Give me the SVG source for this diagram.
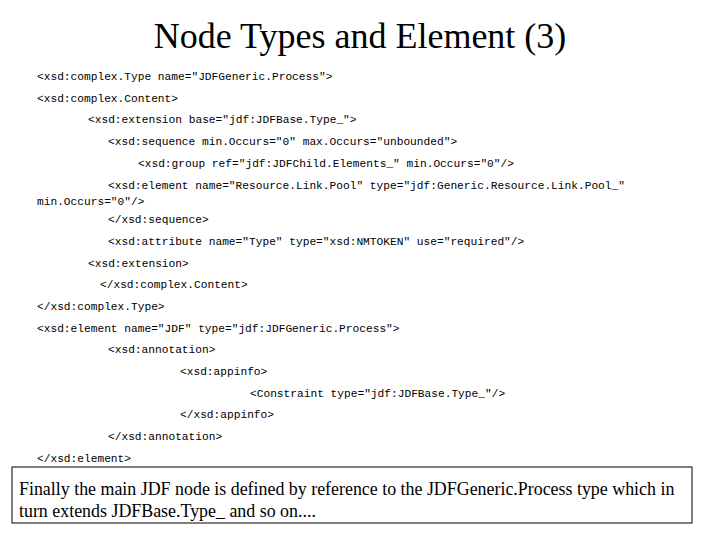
<svg xmlns="http://www.w3.org/2000/svg" width="720" height="540" viewBox="0 0 720 540">
<style>
.c{font-family:"Liberation Mono",monospace;font-size:11.2px;fill:#000}
.t{font-family:"Liberation Serif",serif;fill:#000}
</style>
<rect width="720" height="540" fill="#fff"/>
<text class="t" x="360" y="48" font-size="36" text-anchor="middle">Node Types and Element (3)</text>
<g id="code">
<text class="c" x="37" y="80">&lt;xsd:complex.Type name="JDFGeneric.Process"&gt;</text>
<text class="c" x="37" y="102">&lt;xsd:complex.Content&gt;</text>
<text class="c" x="88" y="123">&lt;xsd:extension base="jdf:JDFBase.Type_"&gt;</text>
<text class="c" x="108" y="145">&lt;xsd:sequence min.Occurs="0" max.Occurs="unbounded"&gt;</text>
<text class="c" x="138" y="167">&lt;xsd:group ref="jdf:JDFChild.Elements_" min.Occurs="0"/&gt;</text>
<text class="c" x="108" y="189">&lt;xsd:element name="Resource.Link.Pool" type="jdf:Generic.Resource.Link.Pool_"</text>
<text class="c" x="37" y="205">min.Occurs="0"/&gt;</text>
<text class="c" x="108" y="223">&lt;/xsd:sequence&gt;</text>
<text class="c" x="108" y="245">&lt;xsd:attribute name="Type" type="xsd:NMTOKEN" use="required"/&gt;</text>
<text class="c" x="88" y="267">&lt;xsd:extension&gt;</text>
<text class="c" x="100" y="288">&lt;/xsd:complex.Content&gt;</text>
<text class="c" x="37" y="310">&lt;/xsd:complex.Type&gt;</text>
<text class="c" x="37" y="332">&lt;xsd:element name="JDF" type="jdf:JDFGeneric.Process"&gt;</text>
<text class="c" x="108" y="353">&lt;xsd:annotation&gt;</text>
<text class="c" x="180" y="375">&lt;xsd:appinfo&gt;</text>
<text class="c" x="250" y="397">&lt;Constraint type="jdf:JDFBase.Type_"/&gt;</text>
<text class="c" x="180" y="418">&lt;/xsd:appinfo&gt;</text>
<text class="c" x="108" y="440">&lt;/xsd:annotation&gt;</text>
<text class="c" x="37" y="462">&lt;/xsd:element&gt;</text>
</g>
<g id="note">
<rect x="12" y="467" width="680" height="56" fill="#fff" stroke="#000" stroke-width="1"/>
<text class="t" x="19" y="495" font-size="17.9">Finally the main JDF node is defined by reference to the JDFGeneric.Process type which in</text>
<text class="t" x="19" y="517" font-size="17.9">turn extends JDFBase.Type_ and so on....</text>
</g>
</svg>
